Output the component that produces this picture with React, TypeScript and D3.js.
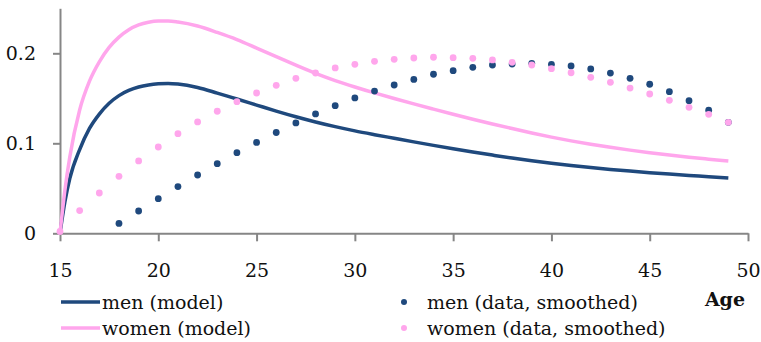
import React, { useEffect, useRef } from "react";
import * as d3 from "d3";

// model curves
const modelAges = [15, 15.25, 15.5, 16, 16.5, 17, 17.5, 18, 18.5, 19, 19.5, 20, 20.5, 21, 22, 23, 24, 25, 26, 27, 28, 29, 30, 31, 32, 33, 34, 35, 36, 37, 38, 39, 40, 41, 42, 43, 44, 45, 46, 47, 48, 49];
const menModel = [0, 0.035, 0.061, 0.093, 0.1165, 0.1325, 0.1445, 0.153, 0.1587, 0.1625, 0.1648, 0.1661, 0.1665, 0.1658, 0.162, 0.1558, 0.1492, 0.1425, 0.1358, 0.1295, 0.1237, 0.1185, 0.1138, 0.1096, 0.1056, 0.1016, 0.0977, 0.0939, 0.0903, 0.0869, 0.0836, 0.0806, 0.0779, 0.0754, 0.0731, 0.071, 0.0691, 0.0674, 0.0658, 0.0643, 0.0629, 0.0615];
const womenModel = [0, 0.048, 0.085, 0.137, 0.169, 0.1905, 0.2065, 0.218, 0.2262, 0.2315, 0.2345, 0.2358, 0.2358, 0.2347, 0.2303, 0.2232, 0.2152, 0.2058, 0.1962, 0.1868, 0.1777, 0.1697, 0.1626, 0.156, 0.1498, 0.1438, 0.138, 0.1323, 0.1268, 0.1215, 0.1164, 0.1115, 0.1069, 0.1027, 0.0989, 0.0955, 0.0924, 0.0896, 0.087, 0.0846, 0.0824, 0.0803];

// smoothed data
const menAges = d3.range(18, 50);
const menData = [0.011, 0.0248, 0.0385, 0.0519, 0.0648, 0.0774, 0.0896, 0.101, 0.112, 0.1226, 0.1326, 0.1418, 0.1504, 0.158, 0.1648, 0.171, 0.1767, 0.1807, 0.1844, 0.187, 0.188, 0.1889, 0.1878, 0.1859, 0.1826, 0.178, 0.1722, 0.1656, 0.1574, 0.1474, 0.1367, 0.1233];
const womenAges = d3.range(15, 50);
const womenData = [0.002, 0.0252, 0.0448, 0.0633, 0.0804, 0.0959, 0.1107, 0.1237, 0.1356, 0.1463, 0.1559, 0.1644, 0.1722, 0.1781, 0.1837, 0.1878, 0.1911, 0.1933, 0.1948, 0.1956, 0.1951, 0.1944, 0.1926, 0.19, 0.187, 0.1829, 0.1784, 0.1733, 0.1678, 0.1614, 0.1548, 0.1478, 0.14, 0.1322, 0.1233];

const xTicks = [15, 20, 25, 30, 35, 40, 45, 50];
const yTicks = [0, 0.1, 0.2];
const yTickLabels = ["0", "0.1", "0.2"];

const NAVY = "#1f497d";
const PINK = "#ffa6ec";
const AXIS = "#868686";
const FONT = "'DejaVu Serif', serif";

const App = () => {
  const chartRef = useRef<SVGSVGElement>(null);

  useEffect(() => {
    const svg = d3.select(chartRef.current);
    svg.selectAll("*").remove();

    const x = d3.scaleLinear().domain([15, 50]).range([60, 748]);
    const y = d3.scaleLinear().domain([0, 0.25]).range([233.3, 8.3]);

    // axes
    const yAxis = svg
      .append("g")
      .attr("transform", "translate(60,0)")
      .call(
        d3
          .axisLeft(y)
          .tickValues(yTicks)
          .tickFormat((d, i) => yTickLabels[i])
          .tickSize(7)
          .tickSizeOuter(0)
          .tickPadding(17)
      );
    const xAxis = svg
      .append("g")
      .attr("transform", `translate(0,${y(0)})`)
      .call(d3.axisBottom(x).tickValues(xTicks).tickFormat(d3.format("d")).tickSize(8).tickSizeOuter(0).tickPadding(22));

    [yAxis, xAxis].forEach((g) => {
      g.select(".domain").attr("stroke", AXIS).attr("stroke-width", 2);
      g.selectAll(".tick line").attr("stroke", AXIS).attr("stroke-width", 2);
      g.selectAll("text").attr("font-family", FONT).attr("font-size", 19).attr("fill", "#111");
    });

    // model lines
    const line = d3
      .line<number>()
      .x((d, i) => x(modelAges[i]))
      .y((d) => y(d))
      .curve(d3.curveMonotoneX);

    svg.append("path").attr("d", line(menModel)).attr("fill", "none").attr("stroke", NAVY).attr("stroke-width", 3.5);
    svg.append("path").attr("d", line(womenModel)).attr("fill", "none").attr("stroke", PINK).attr("stroke-width", 3.5);

    // data dots
    svg
      .append("g")
      .attr("fill", NAVY)
      .selectAll()
      .data(menData)
      .join("circle")
      .attr("cx", (d, i) => x(menAges[i]))
      .attr("cy", (d) => y(d))
      .attr("r", 3.4);
    svg
      .append("g")
      .attr("fill", PINK)
      .selectAll()
      .data(womenData)
      .join("circle")
      .attr("cx", (d, i) => x(womenAges[i]))
      .attr("cy", (d) => y(d))
      .attr("r", 3.4);

    // legend
    const legend = [
      { label: "men (model)", color: NAVY, type: "line", lx: 61, ly: 302 },
      { label: "women (model)", color: PINK, type: "line", lx: 61, ly: 328 },
      { label: "men (data, smoothed)", color: NAVY, type: "dot", lx: 404, ly: 302 },
      { label: "women (data, smoothed)", color: PINK, type: "dot", lx: 404, ly: 328 },
    ];
    const lg = svg.append("g").selectAll().data(legend).join("g");
    lg.filter((d) => d.type === "line")
      .append("line")
      .attr("x1", (d) => d.lx)
      .attr("x2", (d) => d.lx + 39)
      .attr("y1", (d) => d.ly)
      .attr("y2", (d) => d.ly)
      .attr("stroke", (d) => d.color)
      .attr("stroke-width", 3.5);
    lg.filter((d) => d.type === "dot")
      .append("circle")
      .attr("cx", (d) => d.lx)
      .attr("cy", (d) => d.ly)
      .attr("r", 3)
      .attr("fill", (d) => d.color);
    lg.append("text")
      .attr("x", (d) => (d.type === "line" ? d.lx + 41 : d.lx + 23))
      .attr("y", (d) => d.ly)
      .attr("dy", "0.35em")
      .attr("font-family", FONT)
      .attr("font-size", 19)
      .attr("fill", "#111")
      .text((d) => d.label);

    svg
      .append("text")
      .attr("x", 745)
      .attr("y", 299)
      .attr("dy", "0.35em")
      .attr("text-anchor", "end")
      .attr("font-family", FONT)
      .attr("font-size", 19)
      .attr("font-weight", "bold")
      .attr("fill", "#111")
      .text("Age");
  }, []);

  return (
    <svg
      ref={chartRef}
      width={761}
      height={342}
      style={{ position: "absolute", left: 0, top: 0, background: "#fff" }}
    />
  );
};

export default App;
